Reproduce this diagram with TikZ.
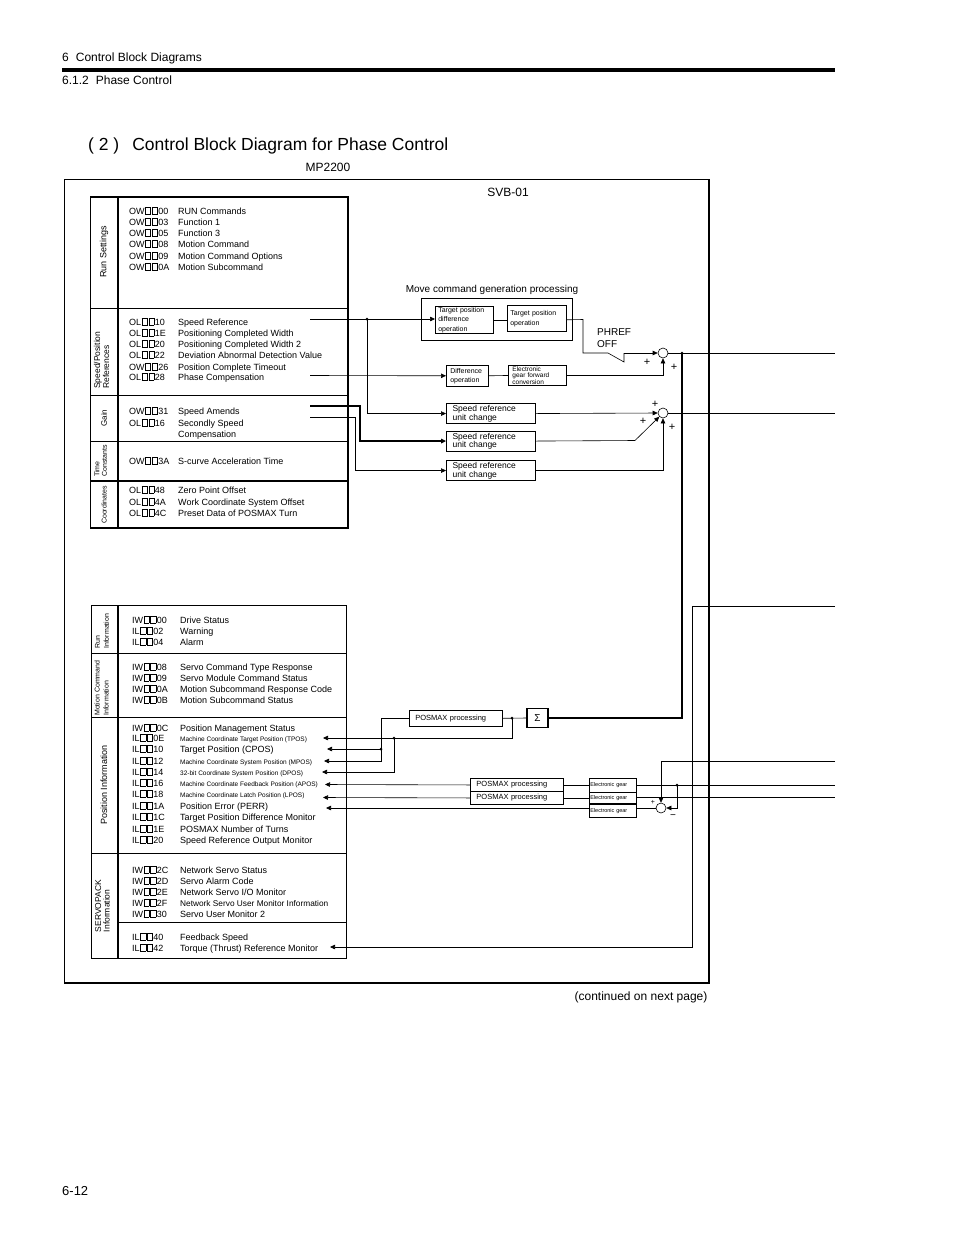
\documentclass[tikz,border=0pt]{standalone}
\usepackage{fontspec}
\setmainfont{Liberation Sans}
\usetikzlibrary{arrows.meta}
\newcommand{\fs}[2]{\fontsize{#1}{#2}\selectfont}
\newcommand{\sq}{\kern0.5pt{\setlength\fboxsep{0pt}\setlength\fboxrule{0.5pt}\fbox{\rule{0pt}{6.3pt}\hspace{4.8pt}}}\kern0.5pt}
\newcommand{\rowT}[5]{\node[reg] (#1) at (#2,#3) {\makebox[49pt][l]{#4}#5};}
\newcommand{\rowB}[5]{\node[reg] (#1) at (#2,#3) {\makebox[48pt][l]{#4}#5};}
\newcommand{\smt}[1]{{\fs{6.5}{7}#1}}
\begin{document}
\begin{tikzpicture}[x=1pt,y=-1pt,
  reg/.style={anchor=base west, inner sep=0, font=\fs{9}{10}},
  lbl/.style={inner sep=0, font=\fs{9}{10}},
  pls/.style={inner sep=0, font=\fs{11}{11}},
  wire/.style={line width=0.6},
  arr/.style={wire, -{Triangle[length=5pt,width=4.5pt]}},
  thin/.style={line width=0.7},
  thick2/.style={line width=1.7},
  vlab/.style={rotate=90, inner sep=0, align=left},
  pbox/.style={draw, line width=0.6, anchor=north west, inner ysep=0, align=left},
  sbox/.style={draw, line width=1.1, anchor=north west, inner xsep=6pt, inner ysep=0, align=left, text width=77pt, minimum height=20pt, font=\fs{8.5}{8.5}},
  sumc/.style={draw, circle, line width=0.6, minimum size=10pt, inner sep=0},
  dot/.style={fill=black}
]
\useasboundingbox (0,0) rectangle (954,1235);

% ---------- header ----------
\node[lbl, anchor=base west, font=\fs{12}{14}] (h1) at (62,61) {6\hspace{7pt}Control Block Diagrams};
\draw[line width=4] (62,70) coordinate (hr1) -- (835,70) coordinate (hr2);
\node[lbl, anchor=base west, font=\fs{12}{14}] (h2) at (62,84) {6.1.2\hspace{7pt}Phase Control};
\node[lbl, anchor=base west, font=\fs{17.5}{20}] (title) at (88,150) {( 2 )\hspace{13pt}Control Block Diagram for Phase Control};
\node[lbl, anchor=base, font=\fs{12}{14}] (mp) at (328,171) {MP2200};
\node[lbl, anchor=base, font=\fs{12}{14}] (svb) at (508,196) {SVB-01};
\node[lbl, anchor=base, font=\fs{12}{14}] (cont) at (641,1000) {(continued on next page)};
\node[lbl, anchor=base west, font=\fs{13}{14}] (pg) at (62,1195) {6-12};

% ---------- frame ----------
\draw[thin] (64,983) -- (64,179) -- (709,179);
\draw[thick2] (709,179) -- (709,983) -- (64,983);

% ---------- top register block ----------
\draw[thin] (90,197) rectangle (348,528);
\draw[thick2] (90,197) -- (348,197) -- (348,528) -- (90,528);
\draw[thick2] (118,197) -- (118,528);
\draw[thin] (90,308) -- (348,308);
\draw[thin] (90,395) -- (348,395);
\draw[thin] (90,441) -- (348,441);
\draw[thick2] (90,481) -- (348,481);

\node[vlab, font=\fs{9}{10}] (lrs) at (104,252) {Run Settings};
\node[vlab, anchor=west, font=\fs{8.5}{9}] (lsp) at (101.5,389) {Speed/Position\\References};
\node[vlab, font=\fs{8}{9}] (lga) at (104,418) {Gain};
\node[vlab, font=\fs{7}{7.5}] (ltc) at (100.5,461) {Time\\Constants};
\node[vlab, font=\fs{7}{8}] (lco) at (104,505) {Coordinates};

\rowT{r1}{129}{214}{OW\sq\sq00}{RUN Commands}
\rowT{r2}{129}{225}{OW\sq\sq03}{Function 1}
\rowT{r3}{129}{236}{OW\sq\sq05}{Function 3}
\rowT{r4}{129}{247}{OW\sq\sq08}{Motion Command}
\rowT{r5}{129}{259}{OW\sq\sq09}{Motion Command Options}
\rowT{r6}{129}{270}{OW\sq\sq0A}{Motion Subcommand}
\rowT{r7}{129}{325}{OL\sq\sq10}{Speed Reference}
\rowT{r8}{129}{336}{OL\sq\sq1E}{Positioning Completed Width}
\rowT{r9}{129}{347}{OL\sq\sq20}{Positioning Completed Width 2}
\rowT{r10}{129}{358}{OL\sq\sq22}{Deviation Abnormal Detection Value}
\rowT{r11}{129}{370}{OW\sq\sq26}{Position Complete Timeout}
\rowT{r12}{129}{380}{OL\sq\sq28}{Phase Compensation}
\rowT{r13}{129}{414}{OW\sq\sq31}{Speed Amends}
\rowT{r14}{129}{426}{OL\sq\sq16}{Secondly Speed}
\node[reg] (r14d) at (178,437) {Compensation};
\rowT{r15}{129}{464}{OW\sq\sq3A}{S-curve Acceleration Time}
\rowT{r16}{129}{493}{OL\sq\sq48}{Zero Point Offset}
\rowT{r17}{129}{505}{OL\sq\sq4A}{Work Coordinate System Offset}
\rowT{r18}{129}{516}{OL\sq\sq4C}{Preset Data of POSMAX Turn}

% ---------- bottom register block ----------
\draw[thin] (91,605) rectangle (346,958);
\draw[thick2] (118,605) -- (118,958);
\draw[thin] (91,653) -- (346,653);
\draw[thin] (91,717) -- (346,717);
\draw[thin] (91,853) -- (346,853);
\draw[thin] (118,922) -- (346,922);

\node[vlab, anchor=west, font=\fs{7}{9}] (lri) at (102,649) {Run\\Information};
\node[vlab, anchor=west, font=\fs{7}{9}] (lmc) at (101.5,716) {Motion Command\\Information};
\node[vlab, font=\fs{9}{10}] (lpi) at (104,785) {Position Information};
\node[vlab, font=\fs{8.5}{8.5}] (lsv) at (102.5,906) {SERVOPACK\\Information};

\rowB{b1}{132}{623}{IW\sq\sq00}{Drive Status}
\rowB{b2}{132}{634}{IL\sq\sq02}{Warning}
\rowB{b3}{132}{645}{IL\sq\sq04}{Alarm}
\rowB{b4}{132}{670}{IW\sq\sq08}{Servo Command Type Response}
\rowB{b5}{132}{681}{IW\sq\sq09}{Servo Module Command Status}
\rowB{b6}{132}{692}{IW\sq\sq0A}{Motion Subcommand Response Code}
\rowB{b7}{132}{703}{IW\sq\sq0B}{Motion Subcommand Status}
\rowB{b8}{132}{731}{IW\sq\sq0C}{Position Management Status}
\rowB{b9}{132}{741}{IL\sq\sq0E}{\smt{Machine Coordinate Target Position (TPOS)}}
\rowB{b10}{132}{752}{IL\sq\sq10}{Target Position (CPOS)}
\rowB{b11}{132}{764}{IL\sq\sq12}{\smt{Machine Coordinate System Position (MPOS)}}
\rowB{b12}{132}{775}{IL\sq\sq14}{\smt{32-bit Coordinate System Position (DPOS)}}
\rowB{b13}{132}{786}{IL\sq\sq16}{\smt{Machine Coordinate Feedback Position (APOS)}}
\rowB{b14}{132}{797}{IL\sq\sq18}{\smt{Machine Coordinate Latch Position (LPOS)}}
\rowB{b15}{132}{809}{IL\sq\sq1A}{Position Error (PERR)}
\rowB{b16}{132}{820}{IL\sq\sq1C}{Target Position Difference Monitor}
\rowB{b17}{132}{832}{IL\sq\sq1E}{POSMAX Number of Turns}
\rowB{b18}{132}{843}{IL\sq\sq20}{Speed Reference Output Monitor}
\rowB{b19}{132}{873}{IW\sq\sq2C}{Network Servo Status}
\rowB{b20}{132}{884}{IW\sq\sq2D}{Servo Alarm Code}
\rowB{b21}{132}{895}{IW\sq\sq2E}{Network Servo I/O Monitor}
\rowB{b22}{132}{906}{IW\sq\sq2F}{{\fs{8.3}{9}Network Servo User Monitor Information}}
\rowB{b23}{132}{917}{IW\sq\sq30}{Servo User Monitor 2}
\rowB{b24}{132}{940}{IL\sq\sq40}{Feedback Speed}
\rowB{b25}{132}{951}{IL\sq\sq42}{Torque (Thrust) Reference Monitor}

% ---------- move command generation ----------
\node[lbl, anchor=base, font=\fs{10}{11}] (mcgl) at (492,292.5) {Move command generation processing};
\draw[wire] (421,298) rectangle (572,340);
\node[pbox, inner xsep=3pt, text width=52pt, minimum height=27pt, font=\fs{7}{9.5}] (tpd) at (435,306) {Target position\\difference\\operation};
\node[pbox, inner xsep=3pt, text width=53pt, minimum height=26pt, font=\fs{7}{10}] (tpo) at (507,305) {Target position\\operation};
\node[pbox, inner xsep=4pt, text width=34pt, minimum height=21pt, font=\fs{7}{9}] (diff) at (446,365) {Difference\\operation};
\node[pbox, line width=0.9, inner xsep=4pt, text width=50pt, minimum height=20pt, font=\fs{6.5}{5.5}] (egf) at (508,365) {Electronic\\gear forward\\conversion};
\node[sbox] (s1) at (446,403) {Speed reference\\unit change};
\node[sbox] (s2) at (446,430.5) {Speed reference\\unit change};
\node[sbox] (s3) at (446,460) {Speed reference\\unit change};

\node[sumc] (c1) at (663,353) {};
\node[sumc] (c2) at (663,413) {};
\node[lbl, anchor=base west, font=\fs{10}{11}] (ph1) at (597,335.5) {PHREF};
\node[lbl, anchor=base west, font=\fs{10}{11}] (ph2) at (597,347.5) {OFF};
\node[pls] (p1) at (647,362) {+};
\node[pls] (p2) at (674,367.5) {+};
\node[pls] (p3) at (655,404) {+};
\node[pls] (p4) at (643,421) {+};
\node[pls] (p5) at (672,427) {+};

% inputs from top block
\coordinate (a1) at (310,319);
\coordinate (j1) at (367,319);
\coordinate (a2) at (310,375.5);
\coordinate (a3) at (310,406);
\coordinate (a4) at (310,417);
\draw[arr] (a1) -- (a1 -| tpd.west);
\draw[arr] (j1) |- (s1.west);
\fill[dot] (j1) circle (1.5);
\draw[arr] (a2) -- (diff.west);
\draw[arr, line width=1.2] (a3) -- ++(50,0) |- (s2.west);
\draw[arr] (a4) -- ++(45,0) |- (s3.west);

\draw[wire] (tpd.east) -- (tpd.east -| tpo.west);
\coordinate (sw0) at (583,319.5);
\coordinate (sw1) at (608,353);
\coordinate (sw2) at (624,362);
\coordinate (sw3) at (624,353);
\draw[wire] (tpd.east -| tpo.east) -- (sw0) |- (sw1) -- (sw2) -- (sw3);
\draw[arr] (sw3) -- (c1.west);
\draw[wire] (diff.east) -- (egf.west);
\draw[arr] (egf.east) -| (c1.south);
\draw[arr] (s1.east) -- (c2.west);
\coordinate (k2) at (635,440.5);
\draw[arr] (s2.east) -- (k2) -- (c2.south west);
\draw[arr] (s3.east) -| (c2.south);

\coordinate (e1) at (835,353);
\coordinate (e2) at (835,413);
\coordinate (j2) at (682,353);
\draw[wire] (c1.east) -- (e1);
\draw[wire] (c2.east) -- (e2);
\fill[dot] (j2) circle (1.5);

% ---------- lower processing ----------
\node[pbox, inner xsep=6pt, text width=81pt, minimum height=16pt, font=\fs{7.5}{8}] (pm1) at (409,710) {POSMAX processing};
\node[draw, line width=1.1, minimum width=21pt, minimum height=19pt, inner sep=0, font=\fs{10}{11}] (sig) at (537.5,718) {Σ};
\node[pbox, line width=0.9, inner xsep=6pt, text width=81pt, minimum height=13pt, font=\fs{7.5}{8}] (pm2) at (470,778) {POSMAX processing};
\node[pbox, line width=0.9, inner xsep=6pt, text width=81pt, minimum height=13pt, font=\fs{7.5}{8}] (pm3) at (470,791) {POSMAX processing};
\node[pbox, inner xsep=1pt, text width=45pt, minimum height=14pt, font=\fs{5.5}{6}] (g1) at (589,778) {Electronic gear};
\node[pbox, inner xsep=1pt, text width=45pt, minimum height=12pt, font=\fs{5.5}{6}] (g2) at (589,792) {Electronic gear};
\node[pbox, inner xsep=1pt, text width=45pt, minimum height=13pt, font=\fs{5.5}{6}] (g3) at (589,804) {Electronic gear};
\draw[line width=1.2] (g3.north west) -- (g3.north east);
\node[sumc] (c3) at (661,808) {};
\node[lbl, font=\fs{7}{8}] (p6) at (653,802) {+};
\node[lbl, font=\fs{10}{10}] (m1) at (673,817) {\textminus};

\draw[thick2] (j2) |- (sig.east);
\coordinate (j3) at (512,718);
\draw[wire] (pm1.east) -- (sig.west);
\fill[dot] (j3) circle (1.5);

\coordinate (t0) at (323,738);
\coordinate (t1) at (327,749);
\coordinate (t2) at (324,761);
\coordinate (t3) at (322,772);
\coordinate (t4) at (325,784.5);
\coordinate (t5) at (323,797.5);
\coordinate (t6) at (326,808);
\coordinate (t7) at (330,947);
\coordinate (j4) at (394,738);
\coordinate (j5) at (381,749);
\coordinate (q1) at (512,738);
\coordinate (q2) at (381,761);
\coordinate (g3in) at (589,808);
\coordinate (g3out) at (636,808);

\draw[arr] (j3) -- (q1) -- (t0);
\fill[dot] (j4) circle (1.5);
\draw[arr] (j4) |- (t3);
\draw[arr] (pm1.west) -| (q2) -- (t2);
\fill[dot] (j5) circle (1.5);
\draw[arr] (j5) -- (t1);
\draw[arr] (pm2.west) -- (t4);
\draw[arr] (pm3.west) -- (t5);
\draw[arr] (g3in) -- (t6);
\draw[wire] (pm2.east) -- (g1.west |- pm2.east);
\draw[wire] (pm3.east) -- (g2.west |- pm3.east);
\draw[wire] (g3out) -- (c3.west);

\coordinate (e3) at (835,606);
\coordinate (e4) at (835,761);
\coordinate (e5) at (835,785);
\coordinate (e6) at (835,797.5);
\coordinate (j6) at (677,785);
\draw[wire] (g1.east |- e5) -- (e5);
\draw[wire] (g2.east |- e6) -- (e6);
\fill[dot] (j6) circle (1.5);
\draw[arr] (j6) |- (c3.east);
\draw[arr] (e4) -| (c3.north);
\draw[arr] (e3) -| (692,947) -- (t7);
\end{tikzpicture}
\end{document}
